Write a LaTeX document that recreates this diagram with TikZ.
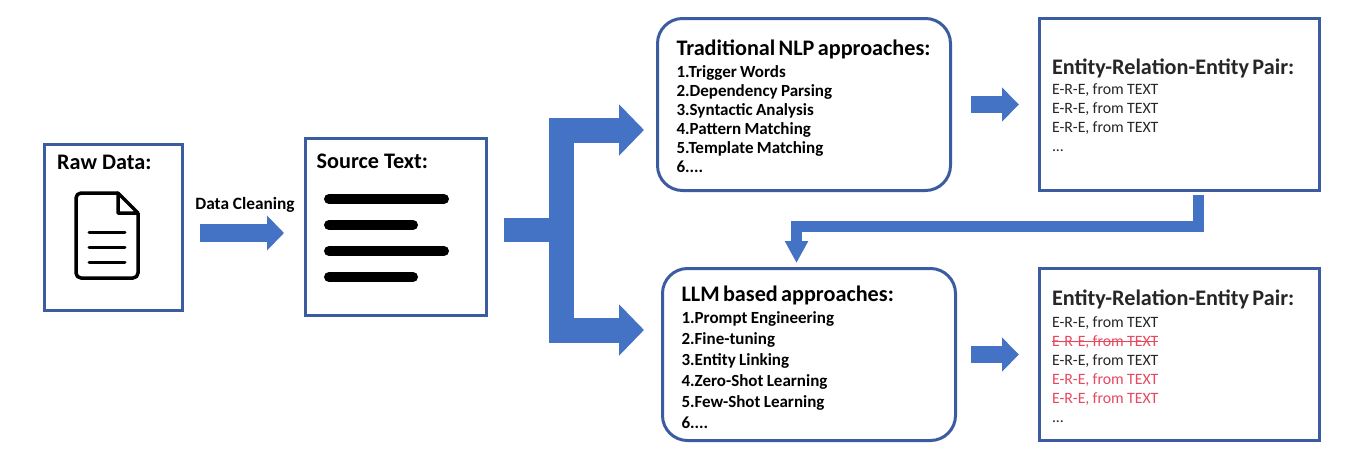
\documentclass[tikz,border=0pt]{standalone}
\usepackage{fontspec}
\setmainfont{Carlito}
\usetikzlibrary{arrows.meta}
\definecolor{framecol}{HTML}{3B5CA0}
\definecolor{arrowcol}{HTML}{4472C4}
\definecolor{darktxt}{HTML}{262626}
\definecolor{redtxt}{HTML}{E8485F}
\newcommand{\titlefont}{\fontsize{22.2}{25}\selectfont\bfseries}
\newcommand{\listfont}{\fontsize{17}{19}\selectfont\bfseries}
\newcommand{\wlistfont}{\fontsize{17}{21}\selectfont\bfseries}
\newcommand{\plainfont}{\fontsize{15.8}{19}\selectfont}
\newlength{\strikelen}
\newcommand{\strikeit}[1]{\leavevmode\settowidth{\strikelen}{#1}\rlap{\rule[0.27em]{\strikelen}{1.5pt}}#1}
\tikzset{
  framebox/.style={draw=framecol,line width=3pt,fill=white,inner sep=0pt,outer sep=1.5pt},
  roundbox/.style={framebox,rounded corners=25pt,minimum width=293pt,minimum height=172pt,text width=255pt,align=left},
  erebox/.style={framebox,minimum width=280pt,minimum height=172pt,text width=255pt,align=left,text=darktxt},
  headlabel/.style={inner sep=0pt,anchor=base west,font=\fontsize{22.2}{26}\selectfont\bfseries},
  blockarrow/.style={draw=arrowcol,line join=miter},
  textbar/.style={line width=10pt,line cap=round},
  icon/.style={line width=3.5pt,line join=round},
  iconline/.style={line width=3pt,line cap=round}
}
\begin{document}
\begin{tikzpicture}[x=1pt,y=-1pt]
  \useasboundingbox (0,0) rectangle (1363,464);
  \draw
    (113.5,227.5) node[framebox,minimum width=138pt,minimum height=166pt] (raw){}
    (396,227) node[framebox,minimum width=181pt,minimum height=177pt] (source){}
    (804,104.5) node[roundbox] (trad){\rule{0pt}{20pt}{\titlefont Traditional NLP approaches:}\\[3pt]
      \listfont 1.Trigger Words\\2.Dependency Parsing\\3.Syntactic Analysis\\4.Pattern Matching\\5.Template Matching\\6....\par}
    (809,354.5) node[roundbox] (llm){\rule{0pt}{21pt}{\titlefont LLM based approaches:}\\[1pt]
      \wlistfont 1.Prompt Engineering\\2.Fine-tuning\\3.Entity Linking\\4.Zero-Shot Learning\\5.Few-Shot Learning\\6....\par}
    (1179.5,104.5) node[erebox] (ere1){\rule{0pt}{17pt}{\titlefont Entity-Relation-Entity Pair:}\\[1pt]
      \plainfont E-R-E, from TEXT\\E-R-E, from TEXT\\E-R-E, from TEXT\\...\par}
    (1179.5,354.5) node[erebox] (ere2){\rule{0pt}{19pt}{\titlefont Entity-Relation-Entity Pair:}\\[3pt]
      \plainfont E-R-E, from TEXT\\{\color{redtxt}\strikeit{E-R-E, from TEXT}}\\E-R-E, from TEXT\\
      {\color{redtxt}E-R-E, from TEXT}\\{\color{redtxt}E-R-E, from TEXT}\\...\par};
  \node[headlabel] (rawtitle) at (57,169) {Raw Data:};
  \node[headlabel] (sourcetitle) at (316.5,168) {Source Text:};
  \node[inner sep=0pt,font=\fontsize{17.3}{20}\selectfont\bfseries] (cleanlabel) at (245,205) {Data Cleaning};
  \coordinate (fork) at (561,230);
  \begin{scope}[blockarrow]
    \draw[line width=18pt,shorten <=16pt,shorten >=20pt,-{Triangle[length=17pt,width=34pt]}]
      ([yshift=-5.5pt]raw.east) -- ([yshift=-6pt]source.west);
    \draw[line width=24pt,shorten <=16pt] ([yshift=-3pt]source.east) -- (fork);
    \draw[line width=25pt,shorten >=12pt,-{Triangle[length=25pt,width=50pt]}]
      (fork) |- ([yshift=-25.5pt]trad.west);
    \draw[line width=25pt,shorten >=17pt,-{Triangle[length=25pt,width=50pt]}]
      (fork) |- ([yshift=24.5pt]llm.west);
    \draw[line width=17pt,shorten <=19pt,shorten >=19pt,-{Triangle[length=17pt,width=33pt]}]
      (trad.east) -- (ere1.west);
    \draw[line width=17pt,shorten <=14pt,shorten >=19pt,-{Triangle[length=17pt,width=33pt]}]
      (llm.east) -- (ere2.west);
    \draw[line width=11pt,shorten <=3pt,shorten >=4pt,-{Triangle[length=22pt,width=22pt]}]
      ([xshift=19pt]ere1.south) -- ++(0,34.5) -| ([xshift=-12.5pt]llm.north);
  \end{scope}
  \draw[icon,rounded corners=5pt] (118,193) -- (76,193) -- (76,278) -- (138,278) -- (138,213);
  \draw[icon] (118,193) -- (138,213) -- (118,213) -- cycle;
  \foreach \y in {232,247,262} {
    \draw[iconline] (89,\y) -- (125,\y);
  }
  \foreach \y/\e in {199/444,225/413,251/444,277/413} {
    \draw[textbar] (329,\y) -- (\e,\y);
  }
\end{tikzpicture}
\end{document}
